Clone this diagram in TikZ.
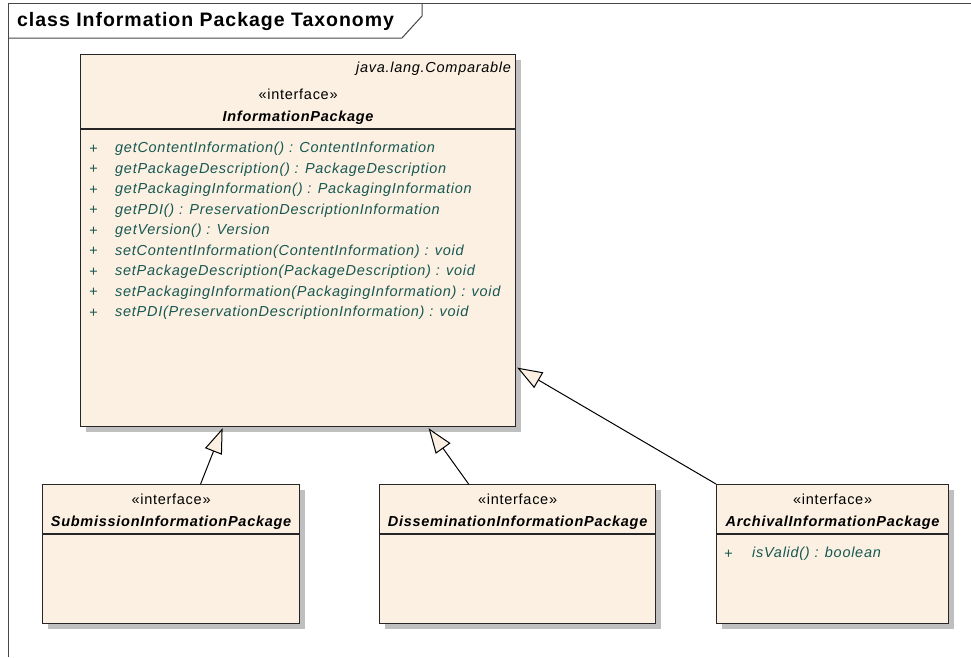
\documentclass[tikz,border=0pt]{standalone}
\usepackage{fontspec}
\setmainfont{Liberation Sans}[LetterSpace=5]
\usepackage{tikz}
\usetikzlibrary{positioning,calc,shadows,arrows.meta}
\definecolor{umlfill}{RGB}{251,240,226}
\definecolor{membertext}{RGB}{24,88,82}
\definecolor{framegray}{RGB}{70,70,70}

\begin{document}
\begin{tikzpicture}[x=1pt,y=-1pt,
    umlbox/.style={rectangle, draw=black!85, line width=1.2pt, fill=umlfill, inner sep=0pt,
        general shadow={fill=black!25, shadow xshift=5pt, shadow yshift=-5pt}},
    sepline/.style={draw=black!85, line width=1.2pt},
    stereo/.style={inner sep=0pt, font=\fontsize{14.5}{16}\selectfont},
    clsname/.style={inner sep=0pt, font=\fontsize{14.5}{16}\selectfont\bfseries\itshape},
    member/.style={inner sep=0pt, anchor=west, text=membertext, font=\fontsize{14.5}{16}\selectfont\itshape},
    realize/.style={-{Triangle[length=25pt, width=18pt, fill=umlfill]}, line width=1pt, line join=miter}]
    \useasboundingbox (0,0) rectangle (971,657);

    % frame and title tab
    \draw[framegray, line width=1pt] (8,657) -- (8,3) -- (971,3);
    \draw[framegray, line width=1pt] (8,38) -- (402,38) -- (422,16) -- (422,3);
    \node[anchor=west, inner sep=0pt, font=\fontsize{19.5}{21}\selectfont\bfseries] (title) at (17,21) {class Information Package Taxonomy};

    % InformationPackage
    \node[umlbox, anchor=north west, minimum width=435pt, minimum height=372pt] (ip) at (80,54) {};
    \draw[sepline] ([yshift=-75pt]ip.north west) -- ([yshift=-75pt]ip.north east);
    \node[member, anchor=east, text=black] (ipTag) at ([xshift=-5pt, yshift=-15pt]ip.north east) {java.lang.Comparable};
    \node[stereo] (ipStereo) at ([yshift=-40pt]ip.north) {«interface»};
    \node[clsname] (ipName) at ([yshift=-64pt]ip.north) {InformationPackage};
    \foreach \m [count=\i] in {{getContentInformation() : ContentInformation},
        {getPackageDescription() : PackageDescription},
        {getPackagingInformation() : PackagingInformation},
        {getPDI() : PreservationDescriptionInformation},
        {getVersion() : Version},
        {setContentInformation(ContentInformation) : void},
        {setPackageDescription(PackageDescription) : void},
        {setPackagingInformation(PackagingInformation) : void},
        {setPDI(PreservationDescriptionInformation) : void}} {
        \node[member] (ipPlus\i) at ([xshift=9pt, yshift={-74.5pt-20.5pt*\i}]ip.north west) {+};
        \node[member] (ipOp\i) at ([xshift=35pt, yshift={-74.5pt-20.5pt*\i}]ip.north west) {\m};
    }

    % sub-interfaces
    \node[umlbox, anchor=north west, minimum width=257pt, minimum height=139pt] (sip) at (42,484) {};
    \draw[sepline] ([yshift=-50pt]sip.north west) -- ([yshift=-50pt]sip.north east);
    \node[stereo] (sipStereo) at ([yshift=-15pt]sip.north) {«interface»};
    \node[clsname] (sipName) at ([yshift=-39pt]sip.north) {SubmissionInformationPackage};

    \node[umlbox, anchor=north west, minimum width=276pt, minimum height=139pt] (dip) at (379,484) {};
    \draw[sepline] ([yshift=-50pt]dip.north west) -- ([yshift=-50pt]dip.north east);
    \node[stereo] (dipStereo) at ([yshift=-15pt]dip.north) {«interface»};
    \node[clsname] (dipName) at ([yshift=-39pt]dip.north) {DisseminationInformationPackage};

    \node[umlbox, anchor=north west, minimum width=232pt, minimum height=139pt] (aip) at (716,484) {};
    \draw[sepline] ([yshift=-50pt]aip.north west) -- ([yshift=-50pt]aip.north east);
    \node[stereo] (aipStereo) at ([yshift=-15pt]aip.north) {«interface»};
    \node[clsname] (aipName) at ([yshift=-39pt]aip.north) {ArchivalInformationPackage};
    \node[member] (aipPlus) at ([xshift=8pt, yshift=-70pt]aip.north west) {+};
    \node[member] (aipOp) at ([xshift=36pt, yshift=-70pt]aip.north west) {isValid() : boolean};

    % realizations
    \draw[realize] ([xshift=29.5pt]sip.north) -- ([xshift=-75.5pt, yshift=-1pt]ip.south);
    \draw[realize] ([xshift=-49pt]dip.north) -- ([xshift=130.5pt, yshift=-1pt]ip.south);
    \draw[realize] (aip.north west) -- ([xshift=1pt, yshift=-127pt]ip.east);
\end{tikzpicture}
\end{document}
